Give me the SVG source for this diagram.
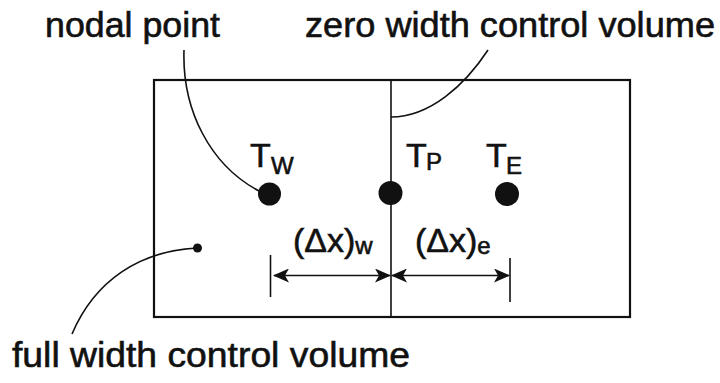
<svg xmlns="http://www.w3.org/2000/svg" width="720" height="383" viewBox="0 0 720 383">
<style>
text{font-family:"Liberation Sans",Arial,sans-serif;fill:#111;stroke:#111;stroke-width:0.6}
.lbl{font-size:35px}
.t{font-size:34px}
.s{font-size:24px}
.ln{fill:none;stroke:#111;stroke-width:1.6}
.box{fill:none;stroke:#111;stroke-width:2.2}
.dot{fill:#111}
</style>
<defs>
<marker id="ah" viewBox="0 0 16 14" refX="15" refY="7" markerWidth="16" markerHeight="14" markerUnits="userSpaceOnUse" orient="auto-start-reverse">
<path d="M0,0 L16,7 L0,14 L4,7 z" fill="#111"/>
</marker>
</defs>
<g id="grid">
<rect class="box" x="154" y="80" width="476" height="237"/>
<line class="ln" x1="391" y1="80" x2="391" y2="317"/>
</g>
<g id="node-W">
<circle class="dot" cx="269.5" cy="194" r="11.5"/>
<text class="t" x="250" y="167">T<tspan class="s" x="271" y="174">W</tspan></text>
</g>
<g id="node-P">
<circle class="dot" cx="390.5" cy="193" r="12"/>
<text class="t" x="406" y="167">T<tspan class="s" x="426" y="170">P</tspan></text>
</g>
<g id="node-E">
<circle class="dot" cx="507" cy="194" r="12"/>
<text class="t" x="486" y="167">T<tspan class="s" x="506" y="174">E</tspan></text>
</g>
<g id="cv-point">
<circle class="dot" cx="197.5" cy="248" r="4.5"/>
</g>
<g id="dim-w">
<text class="t" x="293" y="252">(Δx)<tspan class="s" dy="2">w</tspan></text>
</g>
<g id="dim-e">
<text class="t" x="415" y="252">(Δx)<tspan class="s" dy="2">e</tspan></text>
</g>
<g id="labels">
<text class="lbl" x="45" y="37" textLength="175" lengthAdjust="spacingAndGlyphs">nodal point</text>
<text class="lbl" x="305" y="37" textLength="410" lengthAdjust="spacingAndGlyphs">zero width control volume</text>
<text class="lbl" x="12" y="367" textLength="398" lengthAdjust="spacingAndGlyphs">full width control volume</text>
</g>
<g id="connectors">
<line class="ln" x1="270.5" y1="255" x2="270.5" y2="297"/>
<line class="ln" x1="510" y1="258" x2="510" y2="302"/>
<line class="ln" x1="274" y1="275.5" x2="390" y2="275.5" marker-start="url(#ah)" marker-end="url(#ah)"/>
<line class="ln" x1="392" y1="275.5" x2="509" y2="275.5" marker-start="url(#ah)" marker-end="url(#ah)"/>
<path class="ln" d="M184,50 C182,110 210,165 259,191"/>
<path class="ln" d="M391,117 C430,117 465,85 488,50"/>
<path class="ln" d="M197,248 C140,251 95,280 72,334"/>
</g>
</svg>
